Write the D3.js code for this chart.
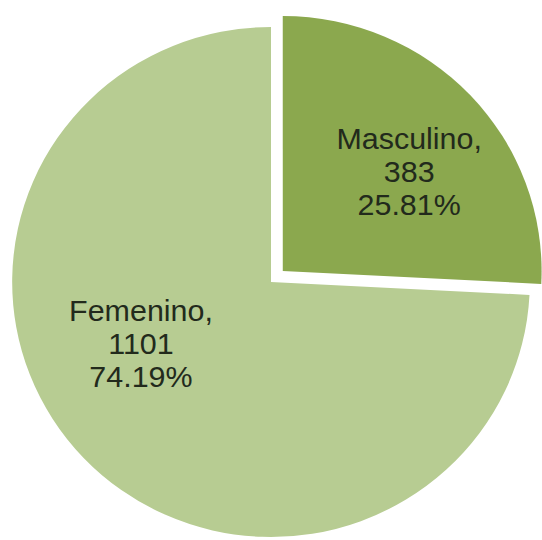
<!DOCTYPE html>
<html>
<head>
<meta charset="utf-8">
<script src="https://cdn.jsdelivr.net/npm/d3@7"></script>
<style>
  body { margin: 0; background: #fff; }
  svg { display: block; }
</style>
</head>
<body>
<svg></svg>
<script>
const width = 542;
const height = 540;

// datos
const categories = ["Masculino", "Femenino"];
const counts = [383, 1101];
const percents = ["25.81%", "74.19%"];

const colors = ["#8ba84e", "#b7cc92"];

let svg = d3.select("svg").attr("width", width).attr("height", height);

const cx = 271;
const cy = 282;
const radius = 255;
const explode = 16;

let pie = d3.pie().sort(null).value((d) => d.value);
let arcs = pie(categories.map((c, i) => ({ name: c, value: counts[i], pct: percents[i], i: i })));

let arc = d3.arc().innerRadius(0).outerRadius(radius);
let labelArc = d3.arc().innerRadius(radius * 0.6).outerRadius(radius * 0.6);

// ajuste de la etiqueta (angulo extra en radianes y desplazamiento)
const labelTurn = [0.14, 0.3];
const labelNudge = [[0, -10], [9, -6]];

let chart = svg.append("g").attr("transform", `translate(${cx},${cy}) scale(1.015,1)`);

let slices = chart
    .selectAll("g.slice")
    .data(arcs)
    .enter()
    .append("g")
    .attr("class", "slice")
    .attr("transform", (d) => {
        if (d.data.name !== "Masculino") return "";
        const mid = (d.startAngle + d.endAngle) / 2;
        return `translate(${Math.sin(mid) * explode},${-Math.cos(mid) * explode})`;
    });

slices
    .append("path")
    .attr("d", arc)
    .style("fill", (d) => colors[d.data.i]);

//etiquetas
slices.each(function (d) {
    const mid = (d.startAngle + d.endAngle) / 2 + labelTurn[d.data.i];
    const p = labelArc.centroid({ startAngle: mid, endAngle: mid });
    const n = labelNudge[d.data.i];
    const lines = [d.data.name + ",", d.data.value, d.data.pct];
    const t = d3
        .select(this)
        .append("text")
        .attr("text-anchor", "middle")
        .style("font-family", "'Liberation Sans', Arial, sans-serif")
        .style("font-size", "30px")
        .style("fill", "#222a1c");
    lines.forEach((l, k) => {
        t.append("tspan")
            .attr("x", p[0] + n[0])
            .attr("y", p[1] + n[1] + (k - 1) * 33 + 10)
            .text(l);
    });
});
</script>
</body>
</html>
